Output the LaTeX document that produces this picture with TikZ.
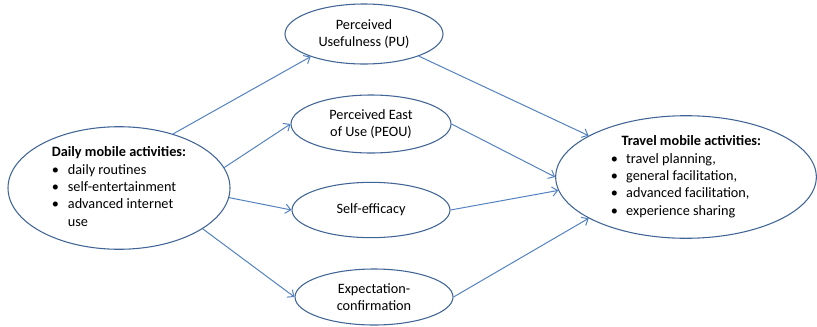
\documentclass[tikz,border=0pt]{standalone}
\usepackage{fontspec}
\setmainfont{Carlito}
\usetikzlibrary{shapes.geometric,arrows.meta}

\definecolor{ringblue}{RGB}{65,100,150}
\definecolor{arrowblue}{RGB}{84,130,192}

\tikzset{
  oval/.style={shape=ellipse,draw=ringblue,line width=0.8pt,align=center,inner sep=0pt,
    font=\fontsize{10.7}{13}\selectfont},
  link/.style={draw=arrowblue,line width=0.75pt,-{Straight Barb[length=4pt,width=7pt]}}
}

\begin{document}
\begin{tikzpicture}[x=0.75pt,y=0.75pt]
\useasboundingbox (0,0) rectangle (817,326);

\node[oval,minimum width=166.5pt,minimum height=84pt] (daily) at (119,138)
  {\begin{tabular}{@{}p{12pt}@{}l@{}}
   \multicolumn{2}{@{}l@{}}{\textbf{Daily mobile activities:}}\\
   \textbullet & daily routines\\
   \textbullet & self-entertainment\\
   \textbullet & advanced internet\\
   & use
   \end{tabular}};
\node[oval,minimum width=118.5pt,minimum height=45pt] (pu) at (364,292) {Perceived\\Usefulness (PU)};
\node[oval,minimum width=120pt,minimum height=43.5pt] (peou) at (371,202) {Perceived East\\of Use (PEOU)};
\node[oval,minimum width=118.5pt,minimum height=41.5pt] (self) at (371,116) {Self-efficacy};
\node[oval,minimum width=118.5pt,minimum height=42pt] (expect) at (374,29) {Expectation-\\confirmation};
\node[oval,minimum width=195.5pt,minimum height=85.5pt] (travel) at (686,149)
  {\begin{tabular}{@{}p{11.5pt}@{}l@{}}
   \multicolumn{2}{@{\hspace{8pt}}l@{}}{\textbf{Travel mobile activities:}}\\
   \textbullet & travel planning,\\
   \textbullet & general facilitation,\\
   \textbullet & advanced facilitation,\\
   \textbullet & experience sharing
   \end{tabular}};

\path (daily.45) edge[link] (pu.203);
\path (daily.11) edge[link] (peou.180);
\path (daily.355) edge[link] (self.180);
\path (daily.334) edge[link] (expect.180);
\path (pu.338) edge[link] (travel.157);
\path (peou.0) edge[link] (travel.180);
\path (self.0) edge[link] (travel.186);
\path (expect.0) edge[link] (travel.203);
\end{tikzpicture}
\end{document}
